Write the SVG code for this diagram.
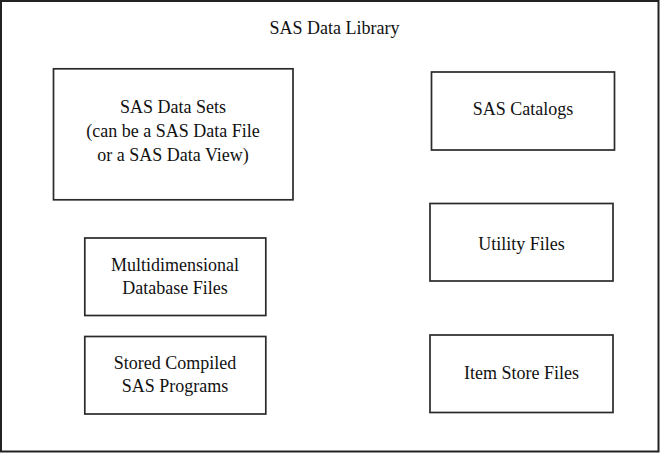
<svg xmlns="http://www.w3.org/2000/svg" width="660" height="453" viewBox="0 0 660 453">
<style>
.box{fill:#fff;stroke:#2a2a2a;stroke-width:1.7}
.t{font-family:"Liberation Serif","Times New Roman",serif;font-size:18px;fill:#111;text-anchor:middle}
</style>
<rect x="0" y="0" width="660" height="453" fill="#fff"/>
<g id="library">
<rect x="1" y="1" width="657.5" height="450.5" fill="#fff" stroke="#222" stroke-width="2"/>
<text class="t" x="334.5" y="34">SAS Data Library</text>
</g>
<g id="datasets">
<rect class="box" x="53.5" y="68.8" width="239.5" height="131"/>
<text class="t" x="173" y="113">SAS Data Sets</text>
<text class="t" x="173" y="137">(can be a SAS Data File</text>
<text class="t" x="173" y="160.5">or a SAS Data View)</text>
</g>
<g id="catalogs">
<rect class="box" x="431.5" y="72" width="183" height="78"/>
<text class="t" x="523" y="115">SAS Catalogs</text>
</g>
<g id="utility">
<rect class="box" x="430" y="203.5" width="183" height="77.5"/>
<text class="t" x="521.5" y="250">Utility Files</text>
</g>
<g id="mddb">
<rect class="box" x="84.8" y="238" width="181" height="77.5"/>
<text class="t" x="175" y="271">Multidimensional</text>
<text class="t" x="175" y="294">Database Files</text>
</g>
<g id="stored">
<rect class="box" x="84.8" y="336.5" width="181" height="77.5"/>
<text class="t" x="175" y="369">Stored Compiled</text>
<text class="t" x="175" y="391.5">SAS Programs</text>
</g>
<g id="itemstore">
<rect class="box" x="430" y="335" width="183" height="77.5"/>
<text class="t" x="521.5" y="379">Item Store Files</text>
</g>
<g id="connectors"></g>
</svg>
